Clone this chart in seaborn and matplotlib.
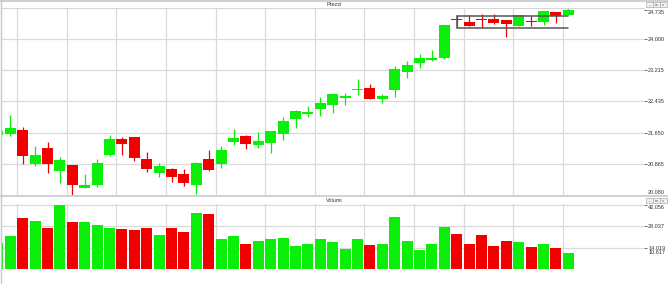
import numpy as np
import pandas as pd
import matplotlib
matplotlib.use("Agg")
import matplotlib.pyplot as plt
from matplotlib.lines import Line2D
from matplotlib.patches import Rectangle
import seaborn as sns

# ---------------- data ----------------
opens = [21.59, 21.62, 21.72, 20.86, 21.27, 20.69, 20.83, 20.26, 20.33, 21.09,
         21.49, 21.53, 20.99, 20.64, 20.73, 20.62, 20.34, 20.99, 20.86, 21.42,
         21.56, 21.34, 21.39, 21.61, 21.98, 22.11, 22.25, 22.35, 22.53, 22.72,
         22.77, 22.50, 22.73, 23.16, 23.39, 23.48, 23.53, 24.50, 24.43, 24.49,
         24.51, 24.48, 24.34, 24.45, 24.44, 24.68, 24.61]
highs = [21.70, 22.10, 21.79, 21.30, 21.40, 21.03, 20.84, 20.60, 20.99, 21.58,
         21.53, 21.54, 21.17, 20.88, 20.76, 20.74, 20.90, 21.22, 21.30, 21.74,
         21.60, 21.66, 21.69, 22.05, 22.21, 22.31, 22.54, 22.62, 22.64, 23.00,
         22.87, 22.62, 23.31, 23.44, 23.62, 23.73, 24.36, 24.61, 24.61, 24.63,
         24.63, 24.49, 24.61, 24.58, 24.70, 24.69, 24.77]
lows = [21.58, 21.56, 20.87, 20.81, 20.64, 20.39, 20.09, 20.25, 20.27, 21.06,
        21.08, 20.93, 20.66, 20.52, 20.41, 20.31, 20.11, 20.68, 20.76, 21.34,
        21.24, 21.26, 21.14, 21.47, 21.77, 22.04, 22.07, 22.15, 22.35, 22.60,
        22.49, 22.40, 22.55, 23.03, 23.26, 23.46, 23.51, 24.32, 24.33, 24.27,
        24.38, 24.04, 24.33, 24.32, 24.36, 24.41, 24.61]
closes = [21.69, 21.77, 21.05, 21.09, 20.86, 20.96, 20.32, 20.32, 20.88, 21.50,
          21.37, 21.01, 20.74, 20.82, 20.53, 20.37, 20.88, 20.70, 21.22, 21.51,
          21.37, 21.44, 21.68, 21.95, 22.20, 22.16, 22.39, 22.61, 22.58, 22.73,
          22.50, 22.58, 23.25, 23.35, 23.52, 23.52, 24.35, 24.49, 24.34, 24.48,
          24.40, 24.37, 24.60, 24.44, 24.70, 24.59, 24.735]
volumes = [17000, 21900, 33100, 31300, 26700, 42056, 30700, 30500, 28900, 26700,
           25900, 25200, 26500, 22300, 26500, 24500, 36600, 35900, 19500, 21400,
           16600, 18200, 19300, 20300, 15300, 16600, 19900, 17900, 13300, 19500,
           16000, 16200, 34200, 18600, 12700, 16600, 27400, 22800, 16200, 22100,
           15300, 18200, 17700, 14200, 16200, 14000, 10617]

price_ticks = [20.080, 20.865, 21.650, 22.435, 23.215, 24.000, 24.735]
price_tick_labels = ["20.080", "20.865", "21.650", "22.435", "23.215", "24.000", "24.735"]
volume_ticks = [14019, 28037, 42056]
volume_tick_labels = ["14.019", "28.037", "42.056"]
last_volume_label = "10.617"
panel_titles = ["Prezzi", "Volumi"]

# drawn box annotation (candle index range, price range)
box_start, box_end = 37, 46
box_low, box_high = 24.28, 24.59

# ---------------- style ----------------
sns.set_theme(style="white")
plt.rcParams['font.family'] = ['Liberation Sans', 'DejaVu Sans']

GREEN = "#0aee0a"
RED = "#f20000"
GRID = "#dadada"
TXT = "#333333"

W, H = 668, 284
fig = plt.figure(figsize=(W / 100, H / 100), dpi=100)
fig.patch.set_facecolor("white")

ax1 = fig.add_axes([1 / W, 1 - 195 / H, 643 / W, 187 / H])
ax2 = fig.add_axes([1 / W, 1 - 269 / H, 643 / W, 65 / H])

idx = np.arange(len(opens))
o = np.array(opens); c = np.array(closes)
hi = np.array(highs); lo = np.array(lows)
up = c >= o
colors = np.where(up, GREEN, RED)

x_lim = (0.25, 52.1)
vgrid = 1.55 + 4 * np.arange(12)

# ---------------- price panel ----------------
ax1.vlines(idx, lo, hi, colors=colors, lw=0.9, zorder=2)
body_bottom = np.minimum(o, c)
body_h = np.maximum(np.abs(c - o), 0.025)
ax1.bar(idx, body_h, bottom=body_bottom, width=0.89, color=colors, lw=0, zorder=3)

for v in vgrid:
    ax1.axvline(v, color=GRID, lw=0.9, zorder=0)
for p in price_ticks[1:-1]:
    ax1.axhline(p, color=GRID, lw=0.9, zorder=0)

box_col = "#555555"
ax1.plot([box_start, box_end], [box_high, box_high], color=box_col, lw=1.1, zorder=4)
ax1.plot([box_start, box_end], [box_low, box_low], color=box_col, lw=1.1, zorder=4)
ax1.plot([box_start, box_start], [box_low, box_high], color=box_col, lw=1.1, zorder=4)

ax1.set_xlim(*x_lim)
ax1.set_ylim(20.08, 24.78)
ax1.set_xticks([])
ax1.yaxis.tick_right()
ax1.set_yticks(price_ticks, price_tick_labels)
ax1.tick_params(axis='y', length=2.2, width=0.6, color="#555555", pad=0.8,
                labelsize=4, labelcolor=TXT, right=True, left=False)
ylabels = ax1.get_yticklabels()
ylabels[0].set_verticalalignment('bottom')
ylabels[-1].set_verticalalignment('top')
for s in ["left", "right", "bottom"]:
    ax1.spines[s].set_visible(False)
ax1.spines["top"].set_color("#d6d6d6")
ax1.spines["top"].set_linewidth(0.8)

# ---------------- volume panel ----------------
df = pd.DataFrame({"idx": idx, "vol": volumes, "dir": np.where(up, "up", "down")})
sns.barplot(data=df, x="idx", y="vol", hue="dir", palette={"up": GREEN, "down": RED},
            native_scale=True, dodge=False, width=0.89, linewidth=0, saturation=1,
            errorbar=None, legend=False, ax=ax2, zorder=3)

for v in vgrid:
    ax2.axvline(v, color=GRID, lw=0.9, zorder=0)
for v in volume_ticks:
    ax2.axhline(v, color=GRID, lw=0.9, zorder=0)

ax2.set_xlim(*x_lim)
ax2.set_ylim(0, 42500)
ax2.set_xticks([])
ax2.set_xlabel("")
ax2.set_ylabel("")
ax2.yaxis.tick_right()
ax2.set_yticks(volume_ticks, volume_tick_labels)
ax2.tick_params(axis='y', length=2.2, width=0.6, color="#555555", pad=0.8,
                labelsize=4, labelcolor=TXT, right=True, left=False)
vlabels = ax2.get_yticklabels()
vlabels[-1].set_verticalalignment('top')
ax2.annotate(last_volume_label, xy=(1.0, volumes[-1]), xycoords=('axes fraction', 'data'),
             xytext=(3.0, 0), textcoords='offset points', fontsize=4, color=TXT,
             ha='left', va='center')
for s in ax2.spines.values():
    s.set_visible(False)

# ---------------- window chrome ----------------
frame = "#c4c8cc"
fig.add_artist(Line2D([0, 1], [1 - 0.5 / H, 1 - 0.5 / H], transform=fig.transFigure, color=frame, lw=1.2))
fig.add_artist(Line2D([0.5 / W, 0.5 / W], [1 - 284 / H, 1], transform=fig.transFigure, color=frame, lw=1.0))
fig.add_artist(Rectangle((0, 1 - 197 / H), 1, 2 / H, transform=fig.transFigure,
                         facecolor="#cdd2d6", edgecolor="none"))

fig.text(334 / W, 1 - 4.5 / H, panel_titles[0], ha='center', va='center', fontsize=4, color=TXT)
fig.text(334 / W, 1 - 200.5 / H, panel_titles[1], ha='center', va='center', fontsize=4, color=TXT)

for ytop in (2, 198):
    for k, ch in enumerate(["_", "m", "x"]):
        x0 = 646 + k * 7
        fig.add_artist(Rectangle((x0 / W, 1 - (ytop + 5) / H), 6.5 / W, 5 / H,
                                 transform=fig.transFigure, facecolor="#f2f2f2",
                                 edgecolor="#9a9a9a", lw=0.4))
        fig.text((x0 + 3.2) / W, 1 - (ytop + 2.6) / H, ch, ha='center', va='center',
                 fontsize=3, color="#555555")

fig.savefig("out.png", dpi=100)
